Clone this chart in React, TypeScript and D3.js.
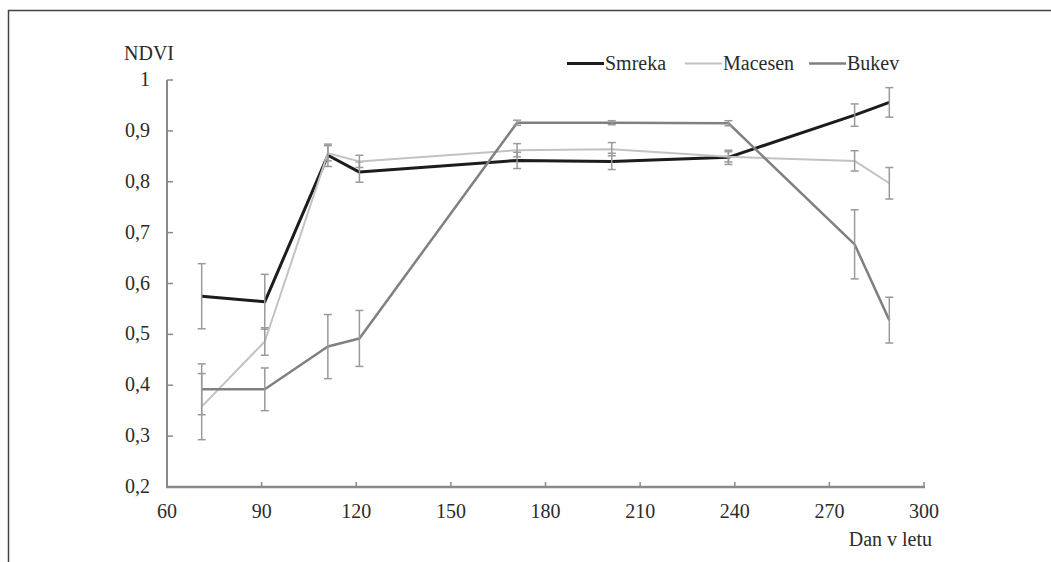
import React, { useEffect, useRef } from 'react';
import * as d3 from 'd3';

// dan v letu (day of year)
const days = [71, 91, 111, 121, 171, 201, 238, 278, 289];

const smreka = [0.575, 0.564, 0.852, 0.819, 0.842, 0.84, 0.848, 0.931, 0.956];
const smrekaErr = [0.064, 0.054, 0.022, 0.02, 0.016, 0.016, 0.014, 0.022, 0.029];

const macesen = [0.358, 0.486, 0.856, 0.84, 0.862, 0.864, 0.849, 0.841, 0.797];
const macesenErr = [0.065, 0.027, 0.015, 0.012, 0.013, 0.013, 0.01, 0.02, 0.031];

const bukev = [0.392, 0.392, 0.476, 0.492, 0.916, 0.916, 0.915, 0.677, 0.528];
const bukevErr = [0.05, 0.042, 0.063, 0.055, 0.005, 0.004, 0.005, 0.068, 0.045];

const xTicks = [60, 90, 120, 150, 180, 210, 240, 270, 300];
const yTicks = [0.2, 0.3, 0.4, 0.5, 0.6, 0.7, 0.8, 0.9, 1];
const yTickLabels = ['0,2', '0,3', '0,4', '0,5', '0,6', '0,7', '0,8', '0,9', '1'];

const seriesNames = ['Smreka', 'Macesen', 'Bukev'];

const FONT = "'Liberation Serif', 'DejaVu Serif', serif";

export default function App() {
  const ref = useRef<SVGSVGElement>(null);

  useEffect(() => {
    const svg = d3.select(ref.current);
    svg.selectAll('*').remove();

    const x = d3.scaleLinear().domain([60, 300]).range([167, 924]);
    const y = d3.scaleLinear().domain([0.2, 1]).range([487, 80]);

    // okvir
    svg.append('rect')
      .attr('x', 8.5).attr('y', 10.5)
      .attr('width', 1100).attr('height', 600)
      .attr('fill', 'none').attr('stroke', '#444').attr('stroke-width', 1.5);

    const axisColor = '#8a8a8a';
    const textColor = '#2b2b2b';

    const txt = (g: any) => g
      .style('font-family', FONT)
      .style('font-size', '20px')
      .attr('fill', textColor);

    // y os
    const gy = svg.append('g');
    gy.append('line')
      .attr('x1', x(60)).attr('x2', x(60))
      .attr('y1', y(1)).attr('y2', y(0.2))
      .attr('stroke', axisColor).attr('stroke-width', 2);
    gy.selectAll('.ytick').data(yTicks).enter().append('line')
      .attr('x1', x(60)).attr('x2', x(60) + 6)
      .attr('y1', (d) => y(d)).attr('y2', (d) => y(d))
      .attr('stroke', axisColor).attr('stroke-width', 1.5);
    gy.selectAll('.ylab').data(yTicks).enter().append('text')
      .attr('x', 150).attr('y', (d) => y(d) + 6)
      .attr('text-anchor', 'end')
      .call(txt)
      .text((d, i) => yTickLabels[i]);
    gy.append('text')
      .attr('x', 174).attr('y', 60)
      .attr('text-anchor', 'end')
      .call(txt)
      .text('NDVI');

    // x os
    const gx = svg.append('g');
    gx.append('line')
      .attr('x1', x(60) - 1).attr('x2', x(300) + 1)
      .attr('y1', y(0.2)).attr('y2', y(0.2))
      .attr('stroke', axisColor).attr('stroke-width', 2.5);
    gx.selectAll('.xtick').data(xTicks).enter().append('line')
      .attr('x1', (d) => x(d)).attr('x2', (d) => x(d))
      .attr('y1', y(0.2)).attr('y2', y(0.2) - 5)
      .attr('stroke', axisColor).attr('stroke-width', 1.5);
    gx.selectAll('.xlab').data(xTicks).enter().append('text')
      .attr('x', (d) => x(d)).attr('y', 518)
      .attr('text-anchor', 'middle')
      .call(txt)
      .text((d) => String(d));
    gx.append('text')
      .attr('x', 932).attr('y', 546)
      .attr('text-anchor', 'end')
      .call(txt)
      .text('Dan v letu');

    const series = [
      { name: seriesNames[0], values: smreka, err: smrekaErr, color: '#1c1c1c', width: 3 },
      { name: seriesNames[1], values: macesen, err: macesenErr, color: '#c2c2c2', width: 2 },
      { name: seriesNames[2], values: bukev, err: bukevErr, color: '#808080', width: 2.5 },
    ];

    const line = d3.line<number>()
      .x((d, i) => x(days[i]))
      .y((d) => y(d));

    series.forEach((s) => {
      const g = svg.append('g');
      g.append('path')
        .attr('d', line(s.values))
        .attr('fill', 'none')
        .attr('stroke', s.color)
        .attr('stroke-width', s.width)
        .attr('stroke-linejoin', 'round');

      // napake
      const eb = g.selectAll('.eb').data(s.values).enter().append('g');
      const errColor = '#9a9a9a';
      eb.append('line')
        .attr('x1', (d, i) => x(days[i])).attr('x2', (d, i) => x(days[i]))
        .attr('y1', (d, i) => y(d + s.err[i])).attr('y2', (d, i) => y(d - s.err[i]))
        .attr('stroke', errColor).attr('stroke-width', 1.5);
      eb.append('line')
        .attr('x1', (d, i) => x(days[i]) - 4).attr('x2', (d, i) => x(days[i]) + 4)
        .attr('y1', (d, i) => y(d + s.err[i])).attr('y2', (d, i) => y(d + s.err[i]))
        .attr('stroke', errColor).attr('stroke-width', 1.5);
      eb.append('line')
        .attr('x1', (d, i) => x(days[i]) - 4).attr('x2', (d, i) => x(days[i]) + 4)
        .attr('y1', (d, i) => y(d - s.err[i])).attr('y2', (d, i) => y(d - s.err[i]))
        .attr('stroke', errColor).attr('stroke-width', 1.5);
    });

    // legenda
    const legendX = [567, 685, 809];
    const legend = svg.append('g');
    series.forEach((s, i) => {
      legend.append('line')
        .attr('x1', legendX[i]).attr('x2', legendX[i] + 37)
        .attr('y1', 63.5).attr('y2', 63.5)
        .attr('stroke', s.color).attr('stroke-width', s.width);
      legend.append('text')
        .attr('x', legendX[i] + 38).attr('y', 70)
        .call(txt)
        .text(s.name);
    });
  }, []);

  return (
    <svg
      ref={ref}
      width={1051}
      height={562}
      style={{ position: 'absolute', left: 0, top: 0, background: '#fff' }}
    />
  );
}
